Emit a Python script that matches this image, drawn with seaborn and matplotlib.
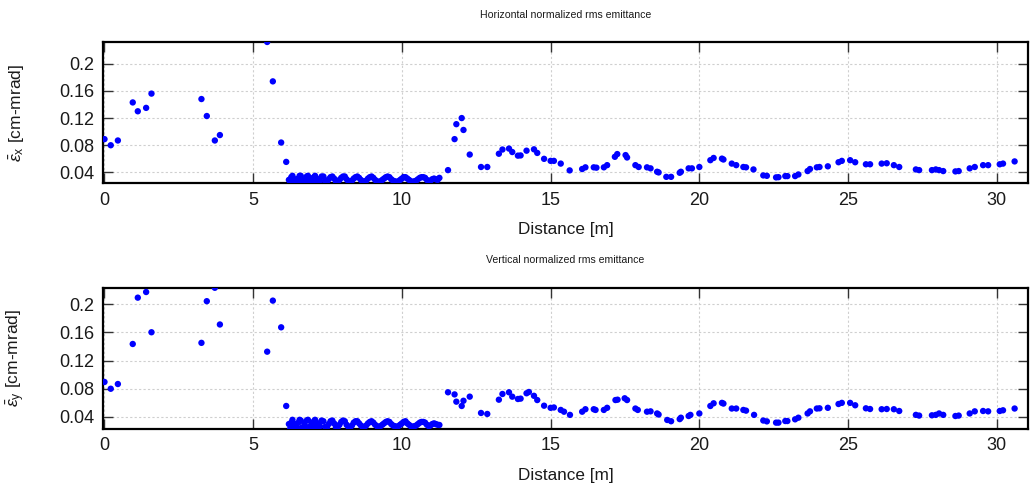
import matplotlib
matplotlib.use("Agg")
import matplotlib.pyplot as plt
import seaborn as sns
import pandas as pd

# ---- horizontal emittance: sparse points upstream of the RFQ ----
x_front_x = [0.00, 0.21, 0.45, 0.95, 1.12, 1.40, 1.58, 3.26, 3.44, 3.71, 3.88,
             5.47, 5.66, 5.94, 6.11]
eps_front_x = [0.089, 0.080, 0.087, 0.143, 0.130, 0.135, 0.156, 0.148, 0.123, 0.087, 0.095,
               0.232, 0.174, 0.084, 0.0555]

# ---- horizontal emittance: RFQ cells ----
x_rfq_x = [6.20, 6.24, 6.28, 6.32, 6.36, 6.40, 6.44, 6.48, 6.52, 6.56, 6.60, 6.64, 6.68,
           6.72, 6.76, 6.80, 6.84, 6.88, 6.92, 6.96, 7.00, 7.04, 7.08, 7.12, 7.16, 7.20,
           7.24, 7.30, 7.36, 7.42, 7.48, 7.54, 7.60, 7.66, 7.72, 7.78, 7.84, 7.90, 7.96,
           8.02, 8.08, 8.14, 8.20, 8.26, 8.32, 8.38, 8.44, 8.50, 8.56, 8.62, 8.68, 8.74,
           8.80, 8.86, 8.92, 8.98, 9.04, 9.10, 9.16, 9.22, 9.28, 9.34, 9.40, 9.46, 9.52,
           9.58, 9.64, 9.70, 9.76, 9.82, 9.88, 9.94, 10.00, 10.06, 10.12, 10.18, 10.24,
           10.30, 10.36, 10.42, 10.48, 10.54, 10.60, 10.66, 10.72, 10.78, 10.84, 10.90,
           10.96, 11.02, 11.08, 11.14, 11.20, 11.26]
eps_rfq_x = [0.029, 0.024, 0.033, 0.035, 0.026, 0.024, 0.030, 0.026, 0.031, 0.035, 0.035,
             0.026, 0.024, 0.030, 0.027, 0.034, 0.035, 0.027, 0.024, 0.031, 0.027, 0.033,
             0.035, 0.028, 0.025, 0.030, 0.028, 0.034, 0.034, 0.027, 0.026, 0.030, 0.033,
             0.034, 0.031, 0.027, 0.026, 0.029, 0.032, 0.034, 0.034, 0.030, 0.027, 0.026,
             0.028, 0.031, 0.033, 0.034, 0.032, 0.029, 0.027, 0.026, 0.028, 0.031, 0.033,
             0.034, 0.032, 0.029, 0.027, 0.026, 0.027, 0.029, 0.031, 0.033, 0.034, 0.033,
             0.030, 0.028, 0.027, 0.026, 0.027, 0.029, 0.031, 0.033, 0.033, 0.031, 0.029,
             0.027, 0.026, 0.027, 0.028, 0.030, 0.032, 0.033, 0.033, 0.032, 0.029, 0.027,
             0.028, 0.030, 0.031, 0.030, 0.029, 0.032]

# ---- horizontal emittance: downstream transport ----
x_line_x = [11.55, 11.77, 11.83, 12.01, 12.07, 12.28, 12.66, 12.87, 13.26, 13.38, 13.60,
            13.71, 13.90, 13.99, 14.19, 14.44, 14.55, 14.78, 15.00, 15.11, 15.34, 15.64,
            16.06, 16.17, 16.45, 16.54, 16.79, 16.90, 17.16, 17.24, 17.52, 17.57, 17.85,
            17.96, 18.24, 18.36, 18.58, 18.63, 18.89, 19.05, 19.34, 19.38, 19.64, 19.75,
            20.00, 20.37, 20.48, 20.76, 20.81, 21.09, 21.24, 21.48, 21.57, 21.82, 22.15,
            22.27, 22.58, 22.66, 22.89, 22.96, 23.22, 23.33, 23.64, 23.72, 23.95, 24.04,
            24.32, 24.68, 24.79, 25.07, 25.24, 25.60, 25.74, 26.13, 26.30, 26.54, 26.72,
            27.28, 27.39, 27.82, 27.95, 28.06, 28.20, 28.61, 28.72, 29.09, 29.26, 29.54,
            29.71, 30.10, 30.21, 30.60]
eps_line_x = [0.0434, 0.089, 0.111, 0.120, 0.1025, 0.0663, 0.048, 0.048, 0.0675, 0.0737,
              0.0751, 0.070, 0.0647, 0.065, 0.072, 0.074, 0.0687, 0.060, 0.057, 0.057,
              0.053, 0.043, 0.045, 0.0475, 0.0475, 0.047, 0.0475, 0.0507, 0.063, 0.067,
              0.0655, 0.062, 0.0507, 0.048, 0.0475, 0.046, 0.041, 0.040, 0.0335, 0.0335,
              0.0395, 0.041, 0.046, 0.046, 0.048, 0.058, 0.0613, 0.0603, 0.059, 0.053,
              0.0507, 0.048, 0.0475, 0.0444, 0.0356, 0.0350, 0.0327, 0.0330, 0.0346, 0.0346,
              0.0346, 0.037, 0.042, 0.045, 0.0475, 0.048, 0.049, 0.055, 0.057, 0.058, 0.055,
              0.052, 0.052, 0.053, 0.0535, 0.0507, 0.048, 0.0444, 0.0434, 0.0434, 0.0444,
              0.0434, 0.042, 0.0415, 0.042, 0.046, 0.048, 0.0507, 0.0507, 0.052, 0.053,
              0.0562]

# ---- vertical emittance: sparse points upstream of the RFQ ----
x_front_y = [0.00, 0.21, 0.45, 0.95, 1.12, 1.40, 1.58, 3.26, 3.44, 3.71, 3.88,
             5.47, 5.66, 5.94, 6.11]
eps_front_y = [0.0896, 0.080, 0.0867, 0.1434, 0.209, 0.217, 0.160, 0.145, 0.204, 0.223,
               0.171, 0.1325, 0.2048, 0.167, 0.0556]

# ---- vertical emittance: RFQ cells ----
x_rfq_y = [6.20, 6.24, 6.28, 6.32, 6.36, 6.40, 6.44, 6.48, 6.52, 6.56, 6.60, 6.64, 6.68,
           6.72, 6.76, 6.80, 6.84, 6.88, 6.92, 6.96, 7.00, 7.04, 7.08, 7.12, 7.16, 7.20,
           7.24, 7.30, 7.36, 7.42, 7.48, 7.54, 7.60, 7.66, 7.72, 7.78, 7.84, 7.90, 7.96,
           8.02, 8.08, 8.14, 8.20, 8.26, 8.32, 8.38, 8.44, 8.50, 8.56, 8.62, 8.68, 8.74,
           8.80, 8.86, 8.92, 8.98, 9.04, 9.10, 9.16, 9.22, 9.28, 9.34, 9.40, 9.46, 9.52,
           9.58, 9.64, 9.70, 9.76, 9.82, 9.88, 9.94, 10.00, 10.06, 10.12, 10.18, 10.24,
           10.30, 10.36, 10.42, 10.48, 10.54, 10.60, 10.66, 10.72, 10.78, 10.84, 10.90,
           10.96, 11.02, 11.08, 11.14, 11.20, 11.26]
eps_rfq_y = [0.030, 0.023, 0.032, 0.036, 0.027, 0.023, 0.030, 0.025, 0.032, 0.036, 0.035,
             0.025, 0.023, 0.031, 0.026, 0.035, 0.036, 0.026, 0.023, 0.031, 0.026, 0.034,
             0.036, 0.027, 0.024, 0.031, 0.027, 0.035, 0.034, 0.026, 0.025, 0.030, 0.034,
             0.035, 0.031, 0.026, 0.025, 0.029, 0.033, 0.035, 0.034, 0.029, 0.026, 0.025,
             0.028, 0.032, 0.034, 0.034, 0.031, 0.028, 0.026, 0.026, 0.028, 0.031, 0.033,
             0.034, 0.032, 0.029, 0.027, 0.026, 0.027, 0.029, 0.031, 0.033, 0.034, 0.033,
             0.030, 0.028, 0.027, 0.026, 0.027, 0.029, 0.031, 0.033, 0.034, 0.031, 0.029,
             0.027, 0.026, 0.027, 0.028, 0.030, 0.032, 0.033, 0.033, 0.032, 0.029, 0.027,
             0.028, 0.030, 0.031, 0.030, 0.029, 0.0287]

# ---- vertical emittance: downstream transport ----
x_line_y = [11.55, 11.77, 11.83, 12.01, 12.07, 12.28, 12.66, 12.87, 13.26, 13.38, 13.60,
            13.71, 13.90, 13.99, 14.19, 14.27, 14.44, 14.55, 14.78, 15.00, 15.11, 15.34,
            15.45, 15.65, 16.06, 16.17, 16.45, 16.51, 16.79, 16.90, 17.18, 17.25, 17.49,
            17.57, 17.85, 17.93, 18.24, 18.36, 18.58, 18.63, 18.92, 19.05, 19.34, 19.38,
            19.64, 19.70, 20.00, 20.37, 20.48, 20.76, 20.81, 21.09, 21.24, 21.48, 21.57,
            21.84, 22.15, 22.27, 22.58, 22.66, 22.89, 22.96, 23.22, 23.33, 23.64, 23.72,
            23.95, 24.04, 24.32, 24.68, 24.79, 25.07, 25.24, 25.60, 25.74, 26.13, 26.30,
            26.54, 26.72, 27.28, 27.39, 27.82, 27.95, 28.06, 28.20, 28.61, 28.72, 29.09,
            29.26, 29.54, 29.71, 30.10, 30.21, 30.60]
eps_line_y = [0.075, 0.072, 0.0617, 0.0556, 0.063, 0.0688, 0.0457, 0.0443, 0.0645, 0.0726,
              0.075, 0.0688, 0.0655, 0.066, 0.0736, 0.0754, 0.070, 0.064, 0.056, 0.053,
              0.0535, 0.050, 0.0475, 0.043, 0.0475, 0.051, 0.051, 0.050, 0.050, 0.053,
              0.064, 0.0645, 0.0665, 0.064, 0.052, 0.050, 0.0475, 0.048, 0.045, 0.0435,
              0.0358, 0.034, 0.037, 0.039, 0.0414, 0.043, 0.045, 0.0556, 0.0594, 0.060,
              0.059, 0.052, 0.052, 0.050, 0.049, 0.043, 0.035, 0.0338, 0.032, 0.032,
              0.0343, 0.0343, 0.0367, 0.039, 0.045, 0.048, 0.052, 0.0523, 0.053, 0.0584,
              0.060, 0.060, 0.0566, 0.0523, 0.0513, 0.051, 0.0513, 0.051, 0.0485, 0.043,
              0.042, 0.0424, 0.043, 0.045, 0.043, 0.0414, 0.042, 0.045, 0.048, 0.0485,
              0.048, 0.0485, 0.0495, 0.052]

y_ticks = [0.04, 0.08, 0.12, 0.16, 0.2]
y_tick_labels = ["0.04", "0.08", "0.12", "0.16", "0.2"]
x_ticks = [0, 5, 10, 15, 20, 25, 30]

sns.set_theme(style="white")
plt.rcParams["font.family"] = ["Liberation Sans", "DejaVu Sans"]
plt.rcParams["mathtext.fontset"] = "custom"
plt.rcParams["mathtext.rm"] = "Liberation Sans"
plt.rcParams["mathtext.it"] = "Liberation Sans:italic"

df_x = pd.DataFrame({"s": x_front_x + x_rfq_x + x_line_x,
                     "eps": eps_front_x + eps_rfq_x + eps_line_x})
df_y = pd.DataFrame({"s": x_front_y + x_rfq_y + x_line_y,
                     "eps": eps_front_y + eps_rfq_y + eps_line_y})

fig = plt.figure(figsize=(10.36, 4.92), dpi=100)
ax_top = fig.add_axes([103 / 1036, 1 - 183.3 / 492, 925 / 1036, 141 / 492])
ax_bot = fig.add_axes([103 / 1036, 1 - 429 / 492, 925 / 1036, 141.3 / 492])

panels = [
    (ax_top, df_x, (0.024, 0.2315), r"$\bar{\varepsilon}_{\mathrm{x}}$ [cm-mrad]",
     "Horizontal normalized rms emittance", 15),
    (ax_bot, df_y, (0.023, 0.2231), r"$\bar{\varepsilon}_{\mathrm{y}}$ [cm-mrad]",
     "Vertical normalized rms emittance", 260),
]

for ax, df, ylim, ylabel, title, title_y in panels:
    sns.scatterplot(data=df, x="s", y="eps", ax=ax, color="#0000ff", s=21,
                    linewidth=0, edgecolor="none", legend=False, zorder=3)
    ax.set_xlim(-0.05, 31.05)
    ax.set_ylim(*ylim)
    ax.set_xticks(x_ticks)
    ax.set_xticklabels([str(t) for t in x_ticks])
    ax.set_yticks(y_ticks)
    ax.set_yticklabels(y_tick_labels)
    ax.grid(True, color="#cfcfcf", linestyle=(0, (2, 2)), linewidth=0.8)
    ax.set_axisbelow(True)
    for sp in ax.spines.values():
        sp.set_color("black")
        sp.set_linewidth(1.6)
        sp.set_visible(True)
    ax.tick_params(axis="both", which="both", direction="in", length=7, width=1.0,
                   top=True, right=True, bottom=True, left=True, colors="#333333",
                   labelsize=13, labelcolor="#1a1a1a", pad=6)
    ax.set_xlabel("Distance [m]", fontsize=12.3, color="#1a1a1a")
    ax.xaxis.set_label_coords(0.5, -39 / 141)
    ax.set_ylabel(ylabel, fontsize=12.5, color="#1a1a1a")
    ax.yaxis.set_label_coords((27 - 103) / 925, 0.5)
    fig.text(565.5 / 1036, 1 - title_y / 492, title, ha="center", va="center",
             fontsize=7.6, color="#1a1a1a")

fig.savefig("out.png", dpi=100)
